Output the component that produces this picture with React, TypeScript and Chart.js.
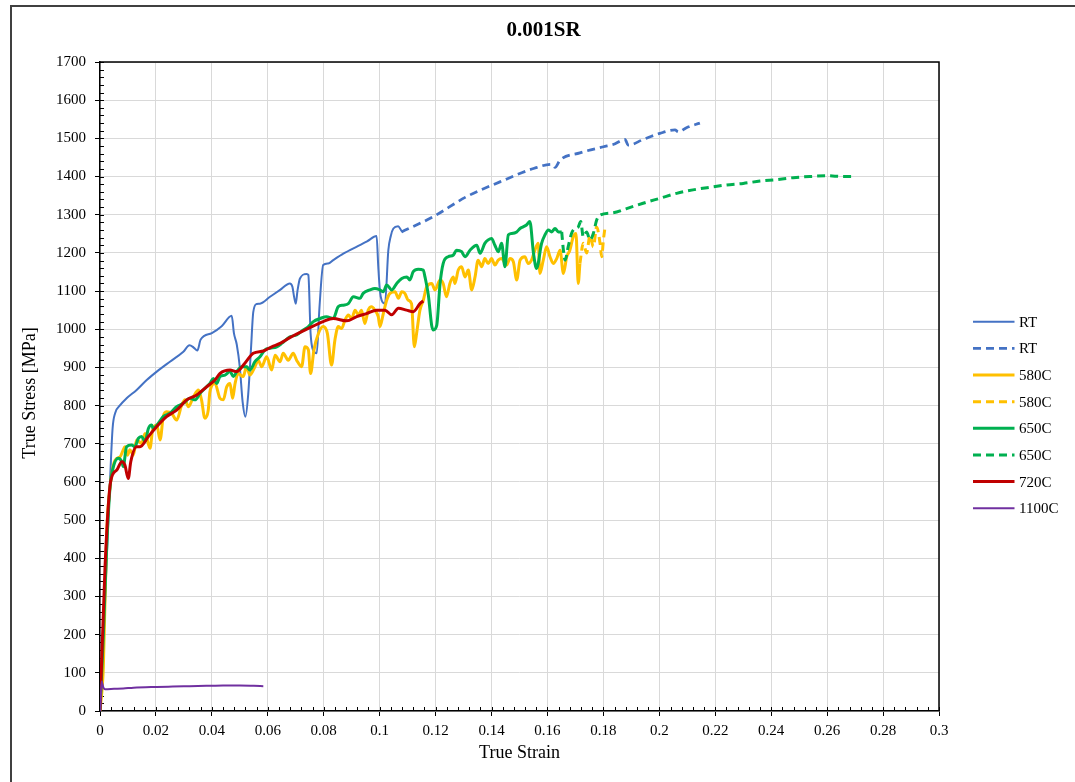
import { useEffect, useRef } from "react";
import { Chart, registerables } from "chart.js";

Chart.register(...registerables);

const SERIF = '"Liberation Serif", "Times New Roman", Times, serif';

// RT, first segment (solid)
const rtStrain = [0, 0.002, 0.0036, 0.0045, 0.0054, 0.0072, 0.0095, 0.0131, 0.0167, 0.0203, 0.025, 0.0298, 0.032, 0.0335, 0.0348, 0.036, 0.04, 0.0435, 0.0471, 0.0479, 0.0489, 0.05, 0.051, 0.052, 0.053, 0.054, 0.0548, 0.056, 0.0572, 0.0608, 0.0644, 0.0679, 0.0688, 0.0694, 0.07, 0.0706, 0.0715, 0.0739, 0.0745, 0.0753, 0.0762, 0.0775, 0.0785, 0.0798, 0.0816, 0.0834, 0.087, 0.0917, 0.0955, 0.0989, 0.0995, 0.1001, 0.1007, 0.1019, 0.1031, 0.104, 0.1049, 0.1066, 0.1078, 0.1084];
const rtStress = [0, 330, 605, 740, 780, 801, 819, 841, 867, 889, 915, 941, 958, 952, 944, 973, 990, 1008, 1035, 989, 960, 900, 810, 771, 830, 950, 1045, 1066, 1067, 1085, 1103, 1120, 1111, 1085, 1067, 1100, 1133, 1145, 1142, 989, 945, 937, 1060, 1168, 1172, 1181, 1198, 1216, 1230, 1244, 1164, 1100, 1076, 1067, 1207, 1245, 1264, 1270, 1258, 1255];

// RT, continuation (dashed)
const rtDashStrain = [0.1078, 0.119, 0.131, 0.143, 0.155, 0.1615, 0.1627, 0.1645, 0.1716, 0.18, 0.1835, 0.1877, 0.1889, 0.1942, 0.2002, 0.2056, 0.2068, 0.2097, 0.2145];
const rtDashStress = [1255, 1294, 1347, 1386, 1421, 1432, 1424, 1443, 1462, 1478, 1484, 1497, 1482, 1497, 1513, 1522, 1517, 1528, 1540];

// 580C (solid)
const t580Strain = [0, 0.0012, 0.0024, 0.0036, 0.0054, 0.0072, 0.0083, 0.0089, 0.0098, 0.0107, 0.0119, 0.0131, 0.0149, 0.0161, 0.0179, 0.0188, 0.0203, 0.0215, 0.0226, 0.0238, 0.0256, 0.0274, 0.0292, 0.0304, 0.0316, 0.0334, 0.0352, 0.0363, 0.0375, 0.0387, 0.0393, 0.0411, 0.0429, 0.0441, 0.0453, 0.0465, 0.0474, 0.0483, 0.0494, 0.0512, 0.0524, 0.0536, 0.0554, 0.0566, 0.0578, 0.0596, 0.0614, 0.0626, 0.0644, 0.0655, 0.0673, 0.0691, 0.0703, 0.0721, 0.0733, 0.0745, 0.0753, 0.0765, 0.0781, 0.0798, 0.0813, 0.0828, 0.084, 0.0852, 0.0864, 0.0876, 0.0888, 0.09, 0.0912, 0.0924, 0.0935, 0.0947, 0.0959, 0.0971, 0.0983, 0.0995, 0.1001, 0.1013, 0.1025, 0.1037, 0.1055, 0.1067, 0.1079, 0.109, 0.1102, 0.1114, 0.1124, 0.1132, 0.1144, 0.1156, 0.1168, 0.1186, 0.1198, 0.1216, 0.1227, 0.1239, 0.1251, 0.1263, 0.1269, 0.1281, 0.1293, 0.1305, 0.1317, 0.1329, 0.1341, 0.1352, 0.1365, 0.1376, 0.1388, 0.14, 0.1412, 0.1424, 0.1436, 0.1454, 0.1466, 0.1478, 0.149, 0.1502, 0.1519, 0.1531, 0.1543, 0.1555, 0.1567, 0.1573, 0.1585, 0.1597, 0.1609, 0.1621, 0.1633, 0.1645, 0.1657, 0.1669, 0.168, 0.1692, 0.1702, 0.171, 0.1716];
const t580Stress = [0, 116, 465, 587, 657, 666, 684, 692, 670, 684, 670, 710, 701, 727, 688, 736, 749, 710, 771, 784, 780, 762, 801, 815, 797, 823, 841, 815, 767, 788, 836, 858, 819, 815, 849, 858, 819, 858, 884, 876, 902, 880, 902, 919, 902, 928, 893, 932, 915, 937, 919, 937, 919, 902, 954, 946, 884, 946, 989, 1007, 989, 906, 972, 1007, 1002, 1024, 1037, 1028, 1050, 1037, 1050, 1015, 1050, 1059, 1050, 1033, 1007, 1041, 1076, 1094, 1098, 1081, 1098, 1094, 1076, 1067, 954, 989, 1050, 1076, 1111, 1120, 1103, 1129, 1120, 1085, 1120, 1137, 1120, 1155, 1164, 1137, 1155, 1103, 1137, 1181, 1164, 1185, 1172, 1185, 1168, 1181, 1185, 1168, 1185, 1177, 1129, 1181, 1190, 1172, 1181, 1207, 1225, 1146, 1181, 1216, 1190, 1172, 1185, 1207, 1146, 1190, 1207, 1242, 1251, 1120, 1172];

// 580C (dashed)
const t580DashStrain = [0.1716, 0.1728, 0.174, 0.1752, 0.1764, 0.1776, 0.1788, 0.1794, 0.18, 0.1806];
const t580DashStress = [1172, 1225, 1200, 1245, 1216, 1268, 1225, 1190, 1234, 1268];

// 650C (solid)
const t650Strain = [0, 0.0012, 0.0024, 0.0036, 0.0048, 0.0065, 0.0078, 0.0083, 0.0095, 0.0113, 0.0125, 0.0137, 0.0149, 0.0161, 0.0173, 0.0185, 0.019, 0.0208, 0.0226, 0.025, 0.0274, 0.0298, 0.0322, 0.034, 0.0358, 0.0375, 0.0393, 0.0405, 0.0417, 0.0429, 0.0447, 0.0465, 0.0477, 0.0489, 0.0507, 0.0524, 0.0536, 0.0554, 0.0572, 0.059, 0.0608, 0.0632, 0.065, 0.0679, 0.0703, 0.0727, 0.0745, 0.0763, 0.0787, 0.081, 0.0834, 0.0852, 0.087, 0.0888, 0.0906, 0.093, 0.0941, 0.0965, 0.0983, 0.1001, 0.1013, 0.1025, 0.1043, 0.1061, 0.1079, 0.1097, 0.1108, 0.112, 0.1138, 0.1156, 0.1162, 0.1174, 0.1186, 0.1192, 0.1204, 0.1216, 0.1227, 0.1245, 0.1263, 0.1275, 0.1293, 0.1305, 0.1323, 0.1347, 0.1359, 0.1376, 0.1388, 0.14, 0.1412, 0.1424, 0.1436, 0.1448, 0.146, 0.1472, 0.149, 0.1502, 0.1513, 0.1525, 0.1537, 0.155, 0.1561, 0.1579, 0.1591, 0.1603, 0.1615, 0.1627, 0.1639, 0.1651];
const t650Stress = [0, 200, 430, 587, 640, 662, 653, 640, 692, 697, 692, 714, 719, 705, 740, 749, 740, 753, 771, 780, 797, 806, 819, 815, 832, 845, 858, 871, 858, 876, 880, 889, 876, 889, 902, 902, 893, 915, 928, 946, 950, 954, 963, 980, 985, 998, 1007, 1020, 1028, 1033, 1028, 1059, 1063, 1067, 1085, 1081, 1094, 1103, 1107, 1103, 1098, 1116, 1103, 1120, 1133, 1137, 1129, 1151, 1157, 1155, 1137, 1090, 1010, 998, 1010, 1120, 1172, 1190, 1194, 1207, 1203, 1190, 1207, 1220, 1199, 1225, 1234, 1238, 1220, 1203, 1225, 1164, 1247, 1251, 1255, 1264, 1268, 1273, 1282, 1199, 1159, 1225, 1247, 1260, 1255, 1264, 1255, 1255];

// 650C (dashed)
const t650DashStrain = [0.1651, 0.1657, 0.1663, 0.1674, 0.1686, 0.1698, 0.171, 0.1719, 0.1728, 0.174, 0.1752, 0.1764, 0.1776, 0.1788, 0.1835, 0.1883, 0.1942, 0.2002, 0.2062, 0.212, 0.2181, 0.224, 0.23, 0.236, 0.2419, 0.2479, 0.2538, 0.2598, 0.2658, 0.2693];
const t650DashStress = [1255, 1207, 1181, 1216, 1251, 1264, 1268, 1282, 1242, 1255, 1234, 1251, 1286, 1299, 1305, 1316, 1330, 1343, 1356, 1365, 1372, 1378, 1382, 1388, 1392, 1397, 1400, 1402, 1400, 1400];

// 720C
const t720Strain = [0, 0.0018, 0.0038, 0.006, 0.0078, 0.0089, 0.0101, 0.011, 0.0131, 0.0143, 0.0173, 0.0203, 0.0238, 0.0274, 0.031, 0.0346, 0.0381, 0.0411, 0.0429, 0.0465, 0.0489, 0.0518, 0.0548, 0.0584, 0.0614, 0.0644, 0.0679, 0.0745, 0.0798, 0.0834, 0.0882, 0.0918, 0.0953, 0.0989, 0.1019, 0.1043, 0.1067, 0.1096, 0.112, 0.1144, 0.1156];
const t720Stress = [0, 378, 601, 631, 653, 644, 609, 653, 692, 692, 719, 745, 771, 788, 815, 828, 849, 867, 884, 893, 889, 911, 937, 943, 954, 963, 978, 1002, 1020, 1028, 1022, 1033, 1041, 1050, 1050, 1038, 1055, 1050, 1046, 1067, 1074];

// 1100C
const t1100Strain = [0, 0.0003, 0.0006, 0.0012, 0.0018, 0.005, 0.0083, 0.012, 0.0203, 0.026, 0.032, 0.038, 0.044, 0.05, 0.055, 0.0584];
const t1100Stress = [0, 40, 77, 62, 57, 58, 59, 61, 63, 64, 65, 66, 67, 67, 66, 65];

const xTickStep = 0.02;
const yTickStep = 100;
const xMinorStep = 0.004;
const yMinorStep = 20;

const chartTitle = "0.001SR";
const xTitle = "True Strain";
const yTitle = "True Stress [MPa]";

export default function App() {
  const ref = useRef<HTMLCanvasElement>(null);

  useEffect(() => {
    const canvas = ref.current!;
    const series = [
      { label: "RT", xs: rtStrain, ys: rtStress, color: "#4472C4", width: 2, dash: [] as number[] },
      { label: "RT", xs: rtDashStrain, ys: rtDashStress, color: "#4472C4", width: 2.75, dash: [8, 5] },
      { label: "580C", xs: t580Strain, ys: t580Stress, color: "#FFC000", width: 3, dash: [] as number[] },
      { label: "580C", xs: t580DashStrain, ys: t580DashStress, color: "#FFC000", width: 3, dash: [8, 5] },
      { label: "650C", xs: t650Strain, ys: t650Stress, color: "#00B050", width: 3, dash: [] as number[] },
      { label: "650C", xs: t650DashStrain, ys: t650DashStress, color: "#00B050", width: 3, dash: [8, 5] },
      { label: "720C", xs: t720Strain, ys: t720Stress, color: "#C00000", width: 3, dash: [] as number[] },
      { label: "1100C", xs: t1100Strain, ys: t1100Stress, color: "#7030A0", width: 2, dash: [] as number[] },
    ];

    const frame = {
      id: "frame",
      beforeDatasetsDraw(c: any) {
        const ctx = c.ctx;
        const { left, bottom } = c.chartArea;
        const xs = c.scales.x;
        const ys = c.scales.y;
        ctx.save();
        ctx.strokeStyle = "#000";
        ctx.lineWidth = 1;
        // minor ticks, drawn inside the plot
        for (let v = xMinorStep; v < 0.3 + 1e-9; v += xMinorStep) {
          const px = Math.round(xs.getPixelForValue(v)) + 0.5;
          ctx.beginPath();
          ctx.moveTo(px, bottom);
          ctx.lineTo(px, bottom - 4);
          ctx.stroke();
        }
        for (let v = yMinorStep; v < 1700 + 1e-9; v += yMinorStep) {
          const py = Math.round(ys.getPixelForValue(v)) + 0.5;
          ctx.beginPath();
          ctx.moveTo(left, py);
          ctx.lineTo(left + 4, py);
          ctx.stroke();
        }
        ctx.restore();
      },
      afterDraw(c: any) {
        const ctx = c.ctx;
        const { left, right, top, bottom } = c.chartArea;
        ctx.save();
        // plot box
        ctx.strokeStyle = "#000";
        ctx.lineWidth = 1.5;
        ctx.beginPath();
        ctx.moveTo(left, top);
        ctx.lineTo(right, top);
        ctx.lineTo(right, bottom);
        ctx.stroke();

        ctx.fillStyle = "#000";
        ctx.textAlign = "center";
        ctx.textBaseline = "middle";
        ctx.font = `bold 21px ${SERIF}`;
        ctx.fillText(chartTitle, 531.5, 24);

        ctx.font = `18px ${SERIF}`;
        ctx.fillText(xTitle, 507.5, 746);
        ctx.save();
        ctx.translate(18, 386);
        ctx.rotate(-Math.PI / 2);
        ctx.fillText(yTitle, 0, 0);
        ctx.restore();

        // legend
        ctx.font = `15px ${SERIF}`;
        ctx.textAlign = "left";
        series.forEach((s, i) => {
          const y = 314.7 + 26.65 * i;
          ctx.strokeStyle = s.color;
          ctx.lineWidth = s.width;
          ctx.setLineDash(s.dash);
          ctx.beginPath();
          ctx.moveTo(961, y);
          ctx.lineTo(1002.5, y);
          ctx.stroke();
          ctx.setLineDash([]);
          ctx.fillStyle = "#000";
          ctx.fillText(s.label, 1007, y + 1);
        });
        ctx.restore();
      },
    };

    const chart = new Chart(canvas, {
      type: "line",
      data: {
        datasets: series.map((s, i) => ({
          label: s.label,
          data: s.xs.map((x, k) => ({ x, y: s.ys[k] })),
          borderColor: s.color,
          backgroundColor: s.color,
          borderWidth: s.width,
          borderDash: s.dash,
          pointRadius: 0,
          pointHoverRadius: 0,
          fill: false,
          cubicInterpolationMode: "monotone" as const,
          order: series.length - i,
        })),
      },
      options: {
        responsive: false,
        animation: false,
        devicePixelRatio: 1,
        layout: { padding: { left: 0, top: 55, right: 136, bottom: 0 } },
        plugins: {
          legend: { display: false },
          title: { display: false },
          tooltip: { enabled: false },
        },
        scales: {
          x: {
            type: "linear",
            min: 0,
            max: 0.3,
            afterFit(s: any) {
              s.height = 71;
            },
            ticks: {
              stepSize: xTickStep,
              padding: 6,
              color: "#000",
              font: { family: SERIF, size: 15 },
              callback: (v: any) => String(Number(Number(v).toFixed(3))),
            },
            grid: { color: "#d9d9d9", lineWidth: 1, tickColor: "#000", tickLength: 5, drawTicks: true },
            border: { color: "#000", width: 1.5 },
          },
          y: {
            type: "linear",
            min: 0,
            max: 1700,
            afterFit(s: any) {
              s.width = 88;
            },
            ticks: {
              stepSize: yTickStep,
              padding: 9,
              color: "#000",
              font: { family: SERIF, size: 15 },
              callback: (v: any) => String(Math.round(Number(v))),
            },
            grid: { color: "#d9d9d9", lineWidth: 1, tickColor: "#000", tickLength: 5, drawTicks: true },
            border: { color: "#000", width: 1.5 },
          },
        },
      },
      plugins: [frame],
    });
    return () => chart.destroy();
  }, []);

  return (
    <div
      style={{
        position: "absolute",
        left: 10,
        top: 5,
        width: 1065,
        height: 777,
        boxSizing: "border-box",
        borderLeft: "2px solid #404040",
        borderTop: "2px solid #404040",
        background: "#fff",
        overflow: "hidden",
      }}
    >
      <canvas ref={ref} width={1063} height={775} style={{ display: "block" }} />
    </div>
  );
}
